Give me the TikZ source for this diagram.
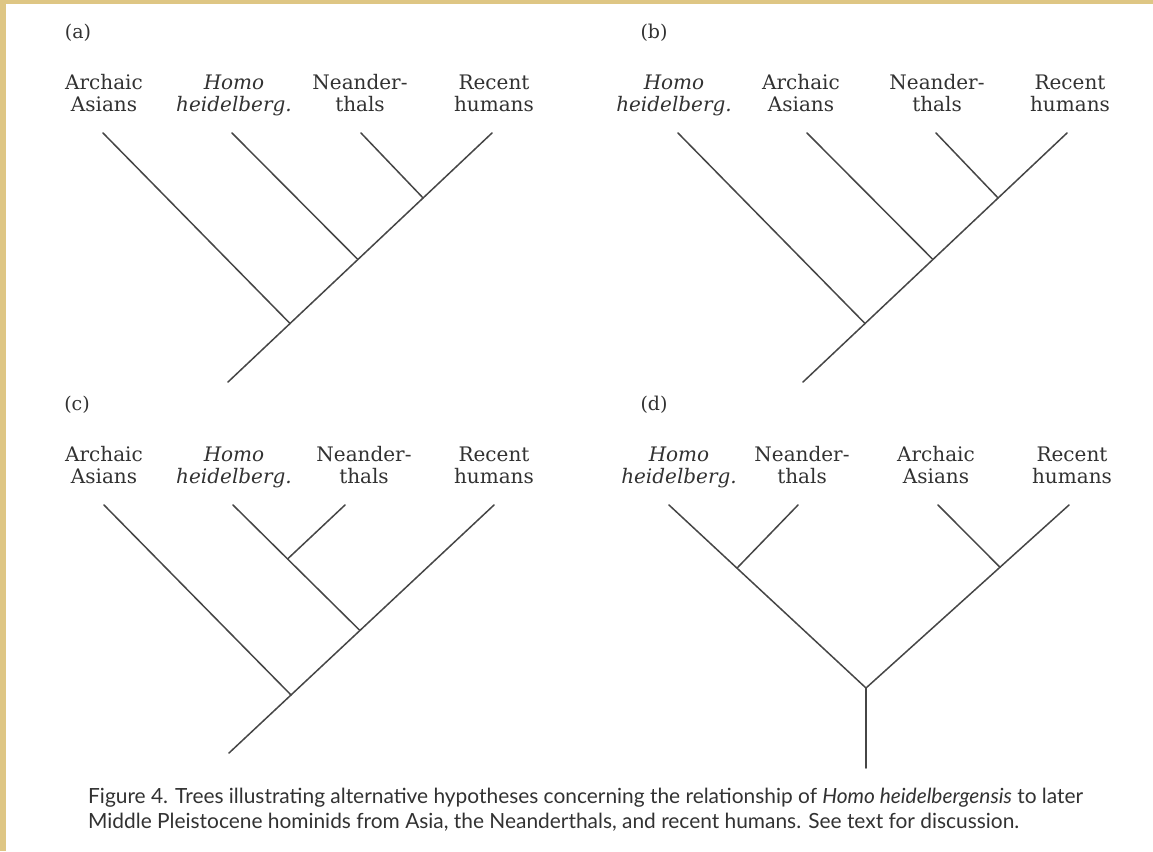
\documentclass[tikz,border=0pt]{standalone}
\usepackage{fontspec}
\setmainfont{DejaVu Serif}
\newfontfamily\capfont{Lato}
\usepackage{graphicx}
\usetikzlibrary{calc}
\definecolor{tanband}{RGB}{222,198,132}
\definecolor{ink}{RGB}{50,50,50}
\definecolor{linegray}{RGB}{70,70,70}
\newlength\capwidth
\tikzset{
  branch/.style={draw=linegray, line width=1.5pt, line cap=round},
  taxon/.style={anchor=base, inner sep=0pt, text=ink, font=\fontsize{20}{22}\selectfont},
  panel/.style={anchor=base, inner sep=0pt, text=ink, font=\fontsize{19}{22}\selectfont},
  captionline/.style={anchor=base west, inner sep=0pt, text=ink}
}
\newcommand{\twoline}[2]{\begin{tabular}[t]{@{}c@{}}#1\\#2\end{tabular}}
\newcommand{\capone}{Figure 4. Trees illustrating alternative hypotheses concerning the relationship of \textit{Homo heidelbergensis} to later}
\newcommand{\captwo}{Middle Pleistocene hominids from Asia, the Neanderthals, and recent humans. See text for discussion.}
\begin{document}
\settowidth\capwidth{\capfont\capone}%
\pgfmathsetmacro\capscale{995/\capwidth}%
\begin{tikzpicture}[x=1pt,y=-1pt]
\useasboundingbox (0,0) rectangle (1153,851);
\fill[white] (0,0) rectangle (1153,851);
\fill[tanband] (0,0) rectangle (6,851);
\fill[tanband] (0,0) rectangle (1153,4);

% ---------- panel labels ----------
\node[panel] (la) at (78,39) {(a)};
\node[panel] (lb) at (654,39) {(b)};
\node[panel] (lc) at (77,410) {(c)};
\node[panel] (ld) at (654,410) {(d)};

% ---------- (a) ----------
\node[taxon] (a-n1) at (104,89) {\twoline{Archaic}{Asians}};
\node[taxon] (a-n2) at (234,89) {\twoline{\itshape Homo}{\itshape heidelberg.}};
\node[taxon] (a-n3) at (360,89) {\twoline{Neander-}{thals}};
\node[taxon] (a-n4) at (494,89) {\twoline{Recent}{humans}};
\coordinate (a-t1) at (103,133);
\coordinate (a-t2) at (232,133);
\coordinate (a-t3) at (361,133);
\coordinate (a-t4) at (492,133);
\coordinate (a-r) at (228,382);
\coordinate (a-j1) at ($(a-r)!0.235!(a-t4)$);
\coordinate (a-j2) at ($(a-r)!0.492!(a-t4)$);
\coordinate (a-j3) at ($(a-r)!0.739!(a-t4)$);
\draw[branch] (a-r) -- (a-t4);
\draw[branch] (a-t1) -- (a-j1);
\draw[branch] (a-t2) -- (a-j2);
\draw[branch] (a-t3) -- (a-j3);

% ---------- (b) ----------
\node[taxon] (b-n1) at (674,89) {\twoline{\itshape Homo}{\itshape heidelberg.}};
\node[taxon] (b-n2) at (801,89) {\twoline{Archaic}{Asians}};
\node[taxon] (b-n3) at (937,89) {\twoline{Neander-}{thals}};
\node[taxon] (b-n4) at (1070,89) {\twoline{Recent}{humans}};
\coordinate (b-t1) at (678,133);
\coordinate (b-t2) at (807,133);
\coordinate (b-t3) at (936,133);
\coordinate (b-t4) at (1067,133);
\coordinate (b-r) at (803,382);
\coordinate (b-j1) at ($(b-r)!0.235!(b-t4)$);
\coordinate (b-j2) at ($(b-r)!0.492!(b-t4)$);
\coordinate (b-j3) at ($(b-r)!0.739!(b-t4)$);
\draw[branch] (b-r) -- (b-t4);
\draw[branch] (b-t1) -- (b-j1);
\draw[branch] (b-t2) -- (b-j2);
\draw[branch] (b-t3) -- (b-j3);

% ---------- (c) ----------
\node[taxon] (c-n1) at (104,461) {\twoline{Archaic}{Asians}};
\node[taxon] (c-n2) at (234,461) {\twoline{\itshape Homo}{\itshape heidelberg.}};
\node[taxon] (c-n3) at (364,461) {\twoline{Neander-}{thals}};
\node[taxon] (c-n4) at (494,461) {\twoline{Recent}{humans}};
\coordinate (c-t1) at (104,505);
\coordinate (c-t2) at (233,505);
\coordinate (c-t3) at (345,505);
\coordinate (c-t4) at (494,505);
\coordinate (c-r) at (229,753);
\coordinate (c-j1) at ($(c-r)!0.234!(c-t4)$);
\coordinate (c-j2) at ($(c-r)!0.494!(c-t4)$);
\coordinate (c-j3) at ($(c-t2)!0.43!(c-j2)$);
\draw[branch] (c-r) -- (c-t4);
\draw[branch] (c-t1) -- (c-j1);
\draw[branch] (c-t2) -- (c-j2);
\draw[branch] (c-t3) -- (c-j3);

% ---------- (d) ----------
\node[taxon] (d-n1) at (679,461) {\twoline{\itshape Homo}{\itshape heidelberg.}};
\node[taxon] (d-n2) at (802,461) {\twoline{Neander-}{thals}};
\node[taxon] (d-n3) at (936,461) {\twoline{Archaic}{Asians}};
\node[taxon] (d-n4) at (1072,461) {\twoline{Recent}{humans}};
\coordinate (d-t1) at (669,505);
\coordinate (d-t2) at (798,505);
\coordinate (d-t3) at (938,505);
\coordinate (d-t4) at (1069,505);
\coordinate (d-r) at (866,688);
\coordinate (d-s) at (866,768);
\coordinate (d-j1) at ($(d-t1)!0.345!(d-r)$);
\coordinate (d-j2) at ($(d-r)!0.66!(d-t4)$);
\draw[branch] (d-t1) -- (d-r) -- (d-t4);
\draw[branch] (d-t2) -- (d-j1);
\draw[branch] (d-t3) -- (d-j2);
\draw[branch] (d-r) -- (d-s);

% ---------- caption ----------
\node[captionline] (cap1) at (88,803) {\scalebox{\capscale}{\capfont\capone}};
\node[captionline] (cap2) at (88,828) {\scalebox{\capscale}{\capfont\captwo}};
\end{tikzpicture}
\end{document}
